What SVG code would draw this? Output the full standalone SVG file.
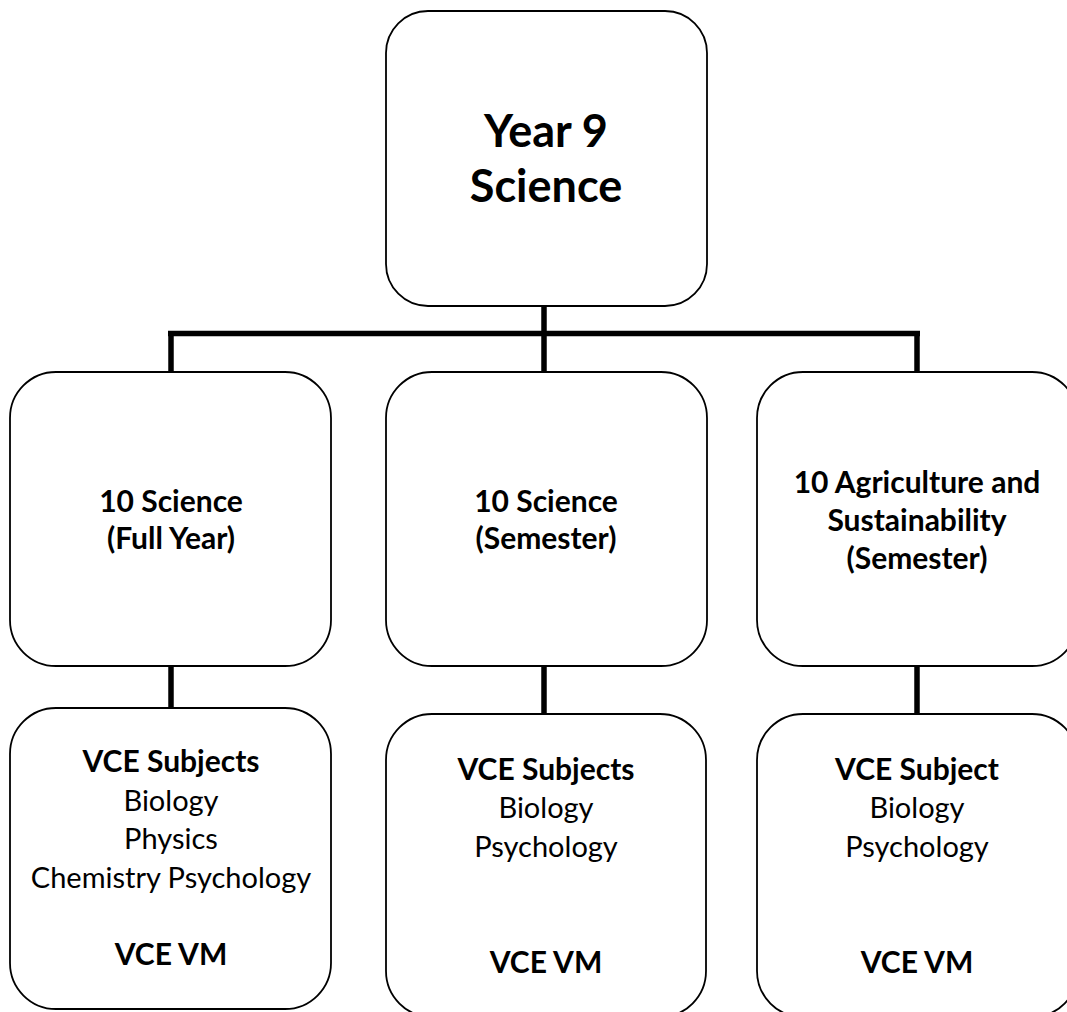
<svg xmlns="http://www.w3.org/2000/svg" width="1067" height="1012" viewBox="0 0 1067 1012">
<style>
.box{fill:#fff;stroke:#000;stroke-width:1.8}
.conn{stroke:#000;stroke-width:5.5;fill:none;stroke-linecap:butt}
text{font-family:Lato,"Open Sans",sans-serif;fill:#000;text-anchor:middle}
.h{font-weight:bold;font-size:45px}
.b{font-weight:bold;font-size:30px}
.r{font-size:29px}
</style>
<rect width="1067" height="1012" fill="#fff"/>
<g id="connectors">
<path class="conn" d="M544,306 V372"/>
<path class="conn" d="M168,333.5 H920"/>
<path class="conn" d="M171,331 V372"/>
<path class="conn" d="M917,331 V372"/>
<path class="conn" d="M171,666 V708"/>
<path class="conn" d="M544,666 V714"/>
<path class="conn" d="M917,666 V714"/>
</g>
<g id="year9">
<rect class="box" x="386" y="11" width="321" height="295" rx="42"/>
<text class="h" x="546" y="147">Year 9</text>
<text class="h" x="546" y="202">Science</text>
</g>
<g id="sci-full">
<rect class="box" x="10" y="372" width="321" height="294" rx="46"/>
<text class="b" x="171" y="512">10 Science</text>
<text class="b" x="171" y="549">(Full Year)</text>
</g>
<g id="sci-sem">
<rect class="box" x="386" y="372" width="321" height="294" rx="46"/>
<text class="b" x="546" y="512">10 Science</text>
<text class="b" x="546" y="549">(Semester)</text>
</g>
<g id="agri">
<rect class="box" x="757" y="372" width="321" height="294" rx="46"/>
<text class="b" x="917" y="493">10 Agriculture and</text>
<text class="b" x="917" y="531">Sustainability</text>
<text class="b" x="917" y="569">(Semester)</text>
</g>
<g id="vce-full">
<rect class="box" x="10" y="708" width="321" height="301" rx="46"/>
<text class="b" x="171" y="772">VCE Subjects</text>
<text class="r" x="171" y="811">Biology</text>
<text class="r" x="171" y="849">Physics</text>
<text class="r" x="171" y="888">Chemistry Psychology</text>
<text class="b" x="171" y="965">VCE VM</text>
</g>
<g id="vce-sem">
<rect class="box" x="386" y="714" width="320" height="303" rx="46"/>
<text class="b" x="546" y="780">VCE Subjects</text>
<text class="r" x="546" y="818">Biology</text>
<text class="r" x="546" y="857">Psychology</text>
<text class="b" x="546" y="973">VCE VM</text>
</g>
<g id="vce-agri">
<rect class="box" x="757" y="714" width="321" height="303" rx="46"/>
<text class="b" x="917" y="780">VCE Subject</text>
<text class="r" x="917" y="818">Biology</text>
<text class="r" x="917" y="857">Psychology</text>
<text class="b" x="917" y="973">VCE VM</text>
</g>
</svg>
